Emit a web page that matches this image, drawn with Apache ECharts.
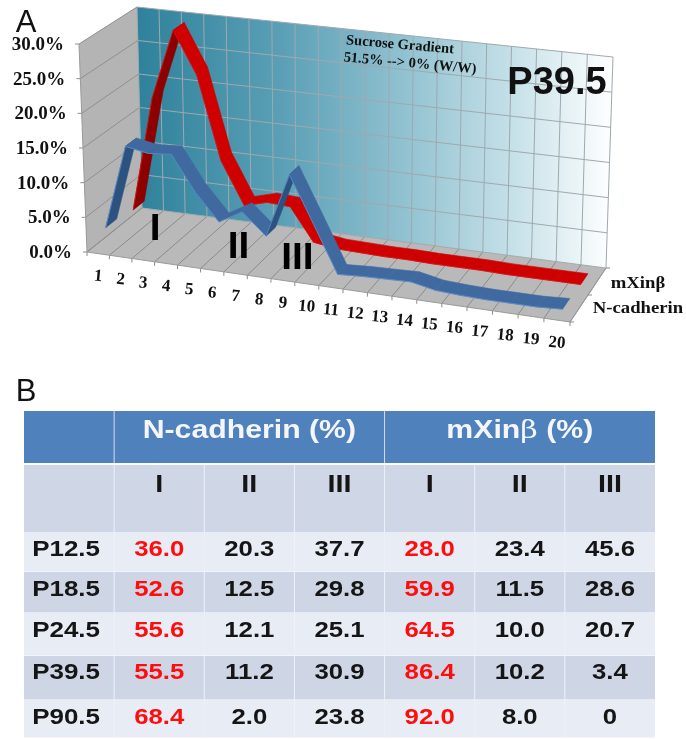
<!DOCTYPE html>
<html><head><meta charset="utf-8">
<style>html,body{margin:0;padding:0;background:#fff}#c{width:686px;height:739px}</style>
<script src="https://cdn.jsdelivr.net/npm/echarts@6/dist/echarts.min.js"></script>
</head><body><div id="c"></div>
<script>
// ---------- data ----------
const fractions = ['1','2','3','4','5','6','7','8','9','10','11','12','13','14','15','16','17','18','19','20'];
const yTickValues = [0,5,10,15,20,25,30];
const yTickLabels = ['0.0%','5.0%','10.0%','15.0%','20.0%','25.0%','30.0%'];
const mXinValues = [2.2,19.1,29.4,23.2,11.1,5.0,5.9,5.7,1.0,0.5,0.4,0.3,0.3,0.2,0.2,0.2,0.1,0.1,0.1,0.1];
const nCadValues = [2.8,15.0,14.4,14.7,9.7,5.9,7.8,4.8,14.0,7.4,0.8,1.0,1.1,1.2,0.5,0.3,0.2,0.2,0.2,0.4];
const seriesNames = ['mXinβ','N-cadherin'];
const peakLabels = ['I','II','III'];
const stages = ['P12.5','P18.5','P24.5','P39.5','P90.5'];
const nCadTable = [['36.0','20.3','37.7'],['52.6','12.5','29.8'],['55.6','12.1','25.1'],['55.5','11.2','30.9'],['68.4','2.0','23.8']];
const mXinTable = [['28.0','23.4','45.6'],['59.9','11.5','28.6'],['64.5','10.0','20.7'],['86.4','10.2','3.4'],['92.0','8.0','0']];

// ---------- layout ----------
const GL=87,GT=44,GW=483,GH=208;
const FBL=[87,252],FBR=[570,322],BBL=[142,208],BBR=[606,268],FTL=[79,44],FTR=[579,104],BTL=[137,7],BTR=[613,57];
const lerp=(a,b,t)=>[a[0]+(b[0]-a[0])*t,a[1]+(b[1]-a[1])*t];
const warp=t=>t/(1+0.084*(1-t));
function proj(api,x,y,z){
  const c=api.coord([x,y]);
  const t=warp((c[0]-GL)/GW),u=(GT+GH-c[1])/GH;
  const fb=lerp(FBL,FBR,t),bb=lerp(BBL,BBR,t),ft=lerp(FTL,FTR,t),bt=lerp(BTL,BTR,t);
  return lerp(lerp(fb,bb,z),lerp(ft,bt,z),u);
}
const poly=(pts,fill,stroke,lw)=>({type:'polygon',shape:{points:pts},style:{fill:fill,stroke:stroke||null,lineWidth:lw||0}});
const line=(a,b,c,w)=>({type:'line',shape:{x1:a[0],y1:a[1],x2:b[0],y2:b[1]},style:{stroke:c,lineWidth:w||1,fill:null}});
const txt=(s,x,y,font,fill,o)=>Object.assign({type:'text',x:x,y:y,style:{text:s,font:font,fill:fill,align:'center',verticalAlign:'middle'}},o||{});
const SERIF='"Liberation Serif"',SANS='"Liberation Sans"';

function renderFrame(p,api){
  const wall=new echarts.graphic.LinearGradient(137,0,613,0,[{offset:0,color:'#2f819b'},{offset:.3,color:'#5a9fb6'},{offset:.55,color:'#8fc0d0'},{offset:.78,color:'#c3dfe7'},{offset:1,color:'#ffffff'}],true);
  const ch=[poly([proj(api,0,0,0),proj(api,20,0,0),proj(api,20,0,1),proj(api,0,0,1)],'#b9b9b9'),
    poly([proj(api,0,0,0),proj(api,0,0,1),proj(api,0,30,1),proj(api,0,30,0)],'#b4b4b4'),
    poly([proj(api,0,0,1),proj(api,20,0,1),proj(api,20,30,1),proj(api,0,30,1)],wall)];
  for(let i=0;i<=fractions.length;i++){
    ch.push(line(proj(api,i,0,1),proj(api,i,30,1),'#9fa9ae'));
    ch.push(line(proj(api,i,0,0),proj(api,i,0,1),'#8b8b8b'));
    const a=proj(api,i,0,0);ch.push(line(a,[a[0],a[1]+4],'#8b8b8b'));
  }
  yTickValues.forEach(v=>{
    ch.push(line(proj(api,0,v,1),proj(api,20,v,1),'#9fa9ae'));
    ch.push(line(proj(api,0,v,0),proj(api,0,v,1),'#8f8f8f'));
    const a=proj(api,0,v,0);ch.push(line(a,[a[0]-4,a[1]],'#8f8f8f'));
  });
  ch.push(line(proj(api,0,0,0),proj(api,0,30,0),'#9a9a9a'));
  ch.push(line(proj(api,0,0,0),proj(api,20,0,0),'#9a9a9a'));
  ch.push(line(proj(api,20,0,0),proj(api,20,0,1),'#9a9a9a'));
  [0,.5,1].forEach(z=>{const a=proj(api,20,0,z);ch.push(line(a,[a[0]+4,a[1]],'#8b8b8b'));});
  return {type:'group',children:ch};
}
function ribbon(values,z0,z1,top,under,edge){
  return function(p,api){
    const i=p.dataIndex;
    if(i>=values.length-1)return null;
    const x1=api.value(0),y1=api.value(1),x2=x1+1,y2=values[i+1];
    const a=proj(api,x1,y1,z0),b=proj(api,x2,y2,z0),c=proj(api,x2,y2,z1),d=proj(api,x1,y1,z1);
    const cr=(b[0]-a[0])*(d[1]-a[1])-(b[1]-a[1])*(d[0]-a[0]);
    return {type:'group',children:[poly([a,b,c,d],cr>0?under:top,cr>0?under:top,.6),line(a,b,edge,.8)]};
  };
}
function renderXLabel(p,api){
  const a=proj(api,api.value(0),0,0);
  return txt(fractions[p.dataIndex],a[0],a[1]+23,'bold 17px '+SERIF,'#111',{rotation:-0.09});
}
function renderYLabel(p,api){
  const a=proj(api,0,api.value(0),0);
  return {type:'text',x:a[0]-15,y:a[1]+1,style:{text:yTickLabels[p.dataIndex],font:'bold 19px '+SERIF,fill:'#111',align:'right',verticalAlign:'middle'}};
}
function renderPeak(p,api){
  const a=proj(api,api.value(0),0,api.value(1));
  return txt(peakLabels[p.dataIndex],a[0],a[1],'bold 37px '+SANS,'#000',{scaleX:1.05});
}
function renderSeriesName(p,api){
  const a=proj(api,20,0,api.value(0));
  return txt(seriesNames[p.dataIndex],a[0]+api.value(1),a[1]+api.value(2),'bold 17px '+SERIF,'#111',{scaleX:1.1});
}

// ---------- table ----------
const rowEdges=[0,52,54,121,161,202,245,289,327];
const rowTextY=[139,179,220,262,307];
const bandFill=['#4f81bd',null,'#cfd6e6','#e8ecf5','#ced6e6','#e8ecf5','#ced6e6','#e8ecf5'];
const BLACK='#151515',RED='#ff0d0d';
function tableRender(p,api){
  const ch=[];
  const X=c=>api.coord([c,0])[0], Y=r=>api.coord([0,r])[1];
  [0,2,3,4,5,6,7].forEach(r=>{
    ch.push({type:'rect',shape:{x:X(0),y:Y(rowEdges[r]),width:X(7)-X(0),height:Y(rowEdges[r+1])-Y(rowEdges[r])-(r>2?0.5:0)},style:{fill:bandFill[r]}});
  });
  for(let c=1;c<7;c++){
    if(c===1||c===4)ch.push(line([X(c),Y(0)],[X(c),Y(52)],'#d5dfee'));
    ch.push(line([X(c),Y(54)],[X(c),Y(327)],'#eef1f7'));
  }
  const hf='bold 25px '+SANS;
  ch.push(txt('N-cadherin (%)',X(2.5),Y(20),hf,'#f4f6fb',{scaleX:1.21}));
  ch.push({type:'text',x:X(5.5),y:Y(20),scaleX:1.21,style:{text:'mXin{b|β} (%)',font:hf,fill:'#f4f6fb',align:'center',verticalAlign:'middle',rich:{b:{font:'25px "DejaVu Serif"',fill:'#f4f6fb'}}}});
  peakLabels.concat(peakLabels).forEach((s,i)=>ch.push(txt(s,X(i+1.5),Y(74),'bold 24px '+SANS,BLACK,{scaleX:1.2})));
  const cf='bold 22px '+SANS;
  stages.forEach((s,r)=>{
    const y=Y(rowTextY[r]);
    ch.push(txt(s,X(0.5)-3,y,cf,BLACK,{scaleX:1.18}));
    nCadTable[r].concat(mXinTable[r]).forEach((v,c)=>ch.push(txt(v,X(c+1.5),y,cf,c%3===0?RED:BLACK,{scaleX:1.17})));
  });
  return {type:'group',children:ch};
}

const hiddenX=(g,max)=>({type:'value',gridIndex:g,min:0,max:max,show:false});
const custom=(renderItem,data,name)=>({type:'custom',name:name,xAxisIndex:0,yAxisIndex:0,silent:true,animation:false,renderItem:renderItem,data:data,clip:false});
const note=(s,x,y,font,rot)=>({type:'text',x:x,y:y,z:100,rotation:rot||0,silent:true,style:{text:s,font:font,fill:'#111',align:'center',verticalAlign:'middle'}});

const chart=echarts.init(document.getElementById('c'),null,{renderer:'canvas'});
chart.setOption({
  animation:false,backgroundColor:'#fff',
  grid:[{left:GL,top:GT,width:GW,height:GH},{left:24,top:411,width:631,height:327}],
  xAxis:[hiddenX(0,20),hiddenX(1,7)],
  yAxis:[{type:'value',gridIndex:0,min:0,max:30,show:false},{type:'value',gridIndex:1,min:0,max:327,inverse:true,show:false}],
  series:[
    custom(renderFrame,[[0,0]],'frame'),
    custom(ribbon(mXinValues,.65,.85,'#cf0000','#8c0000','#e01010'),mXinValues.map((v,i)=>[i+.5,v]),seriesNames[0]),
    custom(ribbon(nCadValues,.15,.35,'#3f699f','#2d527f','#5c90d0'),nCadValues.map((v,i)=>[i+.5,v]),seriesNames[1]),
    custom(renderXLabel,fractions.map((f,i)=>[i+.5,0]),'x labels'),
    custom(renderYLabel,yTickValues.map(v=>[v,0]),'y labels'),
    custom(renderPeak,[[1.59,.608],[5.59,.483],[8.25,.432]],'peaks'),
    custom(renderSeriesName,[[.75,41,2],[.25,59,0]],'series names'),
    {type:'custom',name:'table',xAxisIndex:1,yAxisIndex:1,silent:true,animation:false,clip:false,renderItem:tableRender,data:[[0,0]]}
  ],
  graphic:[
    note('A',26,23,'31px '+SANS),
    note('B',26,392,'31px '+SANS),
    note('Sucrose Gradient',400,45,'bold 14.5px '+SERIF,-0.085),
    note('51.5% --> 0% (W/W)',410,63.5,'bold 14.5px '+SERIF,-0.09),
    note('P39.5',557,84,'bold 38px '+SANS)
  ]
});
</script></body></html>
